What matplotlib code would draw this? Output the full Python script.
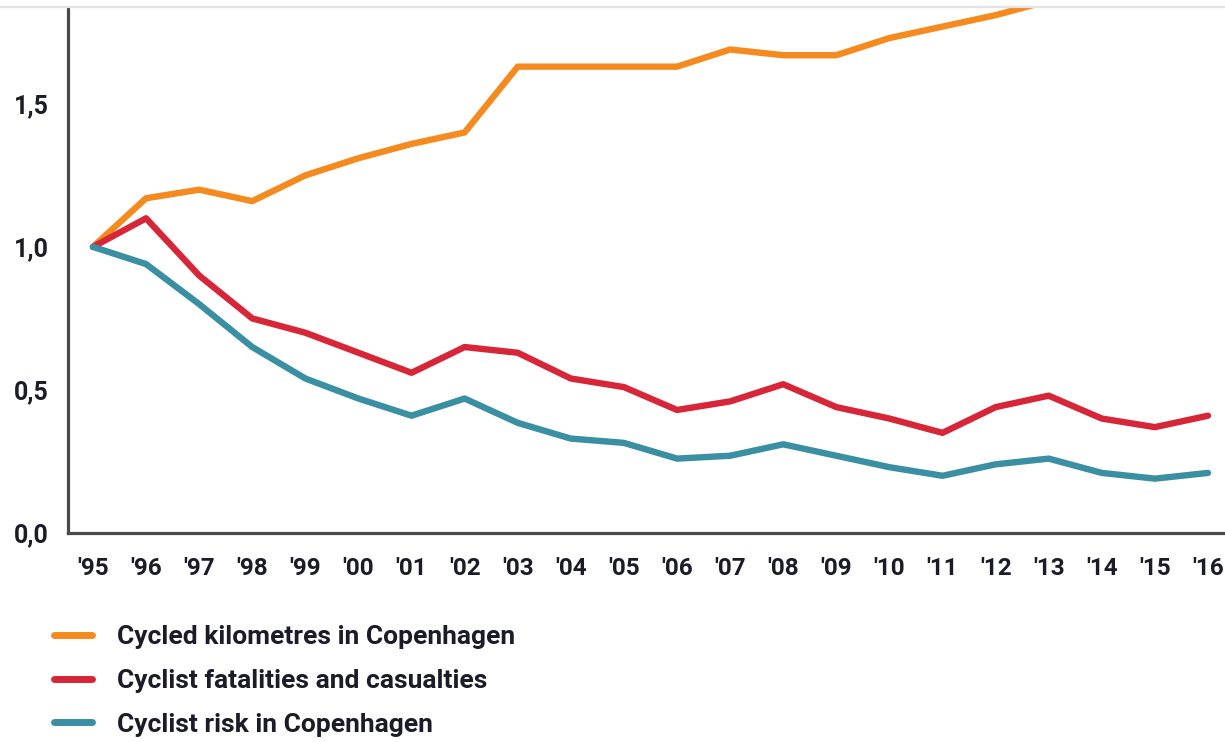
import numpy as np
import matplotlib
matplotlib.use("Agg")
import matplotlib.pyplot as plt
from matplotlib import font_manager
from matplotlib.lines import Line2D

years = ["'95", "'96", "'97", "'98", "'99", "'00", "'01", "'02", "'03", "'04", "'05",
         "'06", "'07", "'08", "'09", "'10", "'11", "'12", "'13", "'14", "'15", "'16"]
yticks = [0.0, 0.5, 1.0, 1.5]
ytick_labels = ["0,0", "0,5", "1,0", "1,5"]

km = [1.00, 1.17, 1.20, 1.16, 1.25, 1.31, 1.36, 1.40, 1.63, 1.63, 1.63,
      1.63, 1.69, 1.67, 1.67, 1.73, 1.77, 1.81, 1.86, 1.88, 1.90, 1.93]
casualties = [1.00, 1.10, 0.90, 0.75, 0.70, 0.63, 0.56, 0.65, 0.63, 0.54, 0.51,
              0.43, 0.46, 0.52, 0.44, 0.40, 0.35, 0.44, 0.48, 0.40, 0.37, 0.41]
risk = [1.00, 0.94, 0.80, 0.65, 0.54, 0.47, 0.41, 0.47, 0.385, 0.33, 0.315,
        0.26, 0.27, 0.31, 0.27, 0.23, 0.20, 0.24, 0.26, 0.21, 0.19, 0.21]

labels = ["Cycled kilometres in Copenhagen",
          "Cyclist fatalities and casualties",
          "Cyclist risk in Copenhagen"]
colors = ["#F58A1F", "#D62638", "#3A8FA3"]

names = {f.name for f in font_manager.fontManager.ttflist}
family = "Roboto" if "Roboto" in names else "DejaVu Sans"
plt.rcParams['font.family'] = [family, 'DejaVu Sans']
plt.rcParams['font.weight'] = 'bold'
text_color = "#1c1c28"

W, H = 1225, 742
fig = plt.figure(figsize=(W / 100, H / 100), dpi=100)
ax = fig.add_axes([68 / W, 1 - 533 / H, (W - 68) / W + 0.01, (533 - 8) / H])

x = np.arange(len(years))
for vals, lab, col in zip([km, casualties, risk], labels, colors):
    ax.plot(x, vals, color=col, linewidth=4.6, label=lab, solid_joinstyle='round',
            solid_capstyle='round')

ax.set_xlim(-0.47, 21.32 + 0.01 * W / 53.05)
ax.set_ylim(0, 1.835)
ax.set_xticks(x)
ax.set_xticklabels(years)
ax.set_yticks(yticks)
ax.set_yticklabels(ytick_labels)
ax.tick_params(axis='both', length=0, labelsize=17.5, labelcolor=text_color)
ax.tick_params(axis='y', labelsize=18, pad=14)
ax.tick_params(axis='x', pad=17)

for s in ['top', 'right']:
    ax.spines[s].set_visible(False)
for s in ['left', 'bottom']:
    ax.spines[s].set_color('#4a4a4a')
    ax.spines[s].set_linewidth(2.3)

# thin grey border line at the top
fig.add_artist(Line2D([0, 1], [1 - 7 / H, 1 - 7 / H], color='#e2e2e2', linewidth=1.6))

leg = ax.legend(loc='upper left', bbox_to_anchor=(54 / W, 1 - 625 / H),
                bbox_transform=fig.transFigure, frameon=False, fontsize=19,
                handlelength=1.45, handletextpad=0.95, labelspacing=0.75,
                borderpad=0, borderaxespad=0)
for t in leg.get_texts():
    t.set_color(text_color)
for h in leg.get_lines():
    h.set_linewidth(5)

fig.savefig("out.png", dpi=100)
